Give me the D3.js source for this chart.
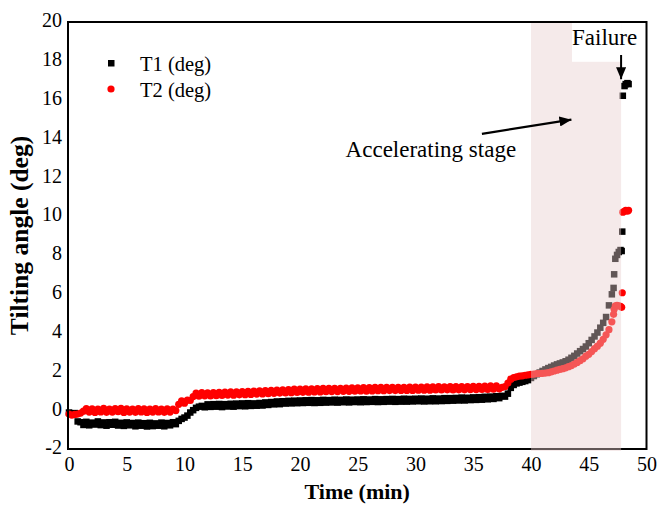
<!DOCTYPE html>
<html>
<head>
<meta charset="utf-8">
<script src="https://cdn.jsdelivr.net/npm/d3@7"></script>
<style>
  html, body { margin: 0; padding: 0; background: #fff; }
  svg { display: block; }
  text { font-family: "Liberation Serif", "Times New Roman", serif; fill: #000; }
</style>
</head>
<body>
<svg id="chart" width="663" height="505"></svg>
<script>
// Logger record: one reading every 0.25 min from t = 0 to 47 min
const sampleStep = 0.25;

const tiltT1 = [
  -0.12,-0.18,-0.15,
  -0.58,-0.62,-0.76,-0.60,-0.78,-0.64,-0.74,-0.58,-0.77,-0.63,
  -0.80,-0.62,-0.75,-0.60,-0.79,-0.65,-0.81,-0.63,-0.78,-0.66,
  -0.83,-0.64,-0.80,-0.67,-0.84,-0.65,-0.82,-0.68,-0.80,-0.64,
  -0.83,-0.66,-0.78,-0.62,-0.72,
  -0.55,-0.45,-0.38,-0.28,-0.12,0.00,0.12,0.18,0.22,
  0.15,0.30,0.17,0.31,0.18,0.32,0.16,0.31,0.19,0.33,
  0.18,0.34,0.21,0.35,0.20,0.36,0.22,0.35,0.23,0.37,
  0.24,0.40,0.27,0.42,0.30,0.45,0.31,0.46,0.34,0.48,
  0.35,0.49,0.36,0.50,0.37,0.51,0.38,0.52,0.37,0.51,
  0.38,0.53,0.39,0.52,0.40,0.54,0.39,0.53,0.41,0.55,
  0.40,0.54,0.42,0.55,0.41,0.56,0.42,0.55,0.43,0.57,
  0.42,0.56,0.43,0.57,0.44,0.58,0.43,0.57,0.44,0.59,
  0.44,0.58,0.45,0.59,0.46,0.60,0.45,0.59,0.46,0.61,
  0.46,0.60,0.47,0.62,0.48,0.62,0.49,0.63,0.50,0.65,
  0.50,0.64,0.52,0.66,0.53,0.67,0.54,0.69,0.56,0.70,
  0.58,0.72,0.62,0.74,0.70,
  0.85,1.15,1.30,1.38,1.42,1.46,1.50,1.55,
  1.66,1.76,1.85,1.94,2.02,2.10,2.17,2.23,2.30,2.36,
  2.41,2.46,2.52,2.60,2.70,2.80,2.92,3.04,3.15,3.28,
  3.45,3.62,3.80,4.00,4.25,4.50,4.80,5.40,5.97
];

const tiltT2 = [
  -0.20,-0.25,-0.22,-0.20,-0.15,
  -0.05,0.08,-0.10,0.07,-0.12,0.06,-0.09,0.09,-0.11,0.05,
  -0.10,0.08,-0.08,0.09,-0.12,0.07,-0.10,0.06,-0.11,0.08,
  -0.09,0.07,-0.12,0.06,-0.10,0.08,-0.09,0.05,-0.11,0.07,
  -0.10,0.05,-0.02,
  0.30,0.48,0.36,0.52,0.50,
  0.70,0.88,0.72,0.90,0.74,0.89,0.73,0.91,0.75,0.92,
  0.76,0.93,0.78,0.94,0.77,0.95,0.79,0.96,0.80,0.97,
  0.81,0.98,0.83,0.99,0.84,1.01,0.85,1.02,0.87,1.04,
  0.88,1.05,0.89,1.06,0.90,1.08,0.91,1.09,0.92,1.10,
  0.93,1.10,0.94,1.11,0.94,1.12,0.95,1.12,0.96,1.13,
  0.96,1.13,0.97,1.14,0.97,1.15,0.98,1.15,0.99,1.16,
  0.98,1.16,0.99,1.17,1.00,1.17,1.00,1.18,1.01,1.17,
  1.01,1.18,1.02,1.18,1.02,1.19,1.02,1.19,1.03,1.19,
  1.03,1.20,1.03,1.20,1.04,1.21,1.04,1.20,1.05,1.21,
  1.04,1.21,1.05,1.22,1.05,1.22,1.06,1.23,1.06,1.23,
  1.07,1.24,1.07,1.25,1.08,1.25,1.10,
  1.17,1.22,1.40,1.60,1.68,1.72,1.75,1.77,1.80,1.82,
  1.84,1.86,1.88,1.89,1.90,1.91,1.93,1.97,2.02,2.06,
  2.10,2.14,2.18,2.24,2.30,2.38,2.46,2.55,2.65,2.78,
  2.88,3.02,3.17,3.30,3.45,3.65,3.88,4.15,4.55
];

// Fast readings taken just before and at failure
const burstTime = [47.15,47.2,47.3,47.45,47.6,47.75,47.85,47.9,47.95,48.1,48.2,48.35,48.45];
const burstT1   = [6.3,7.0,7.8,8.0,8.15,8.25,8.2,9.2,16.2,16.7,16.8,16.85,16.8];
const burstT2   = [4.94,5.2,5.37,5.4,5.38,5.35,5.3,6.05,10.2,10.25,10.3,10.25,10.3];

const xTicks = [0,5,10,15,20,25,30,35,40,45,50];
const yTicks = [-2,0,2,4,6,8,10,12,14,16,18,20];

const seriesNames = ["T1 (deg)", "T2 (deg)"];
const accelStage = [40, 47.8];          // min
const failureAt = 47.8;                  // min

const svg = d3.select("#chart");
const plot = { left: 68, right: 646.5, top: 22, bottom: 449 };

const x = d3.scaleLinear().domain([0, 50]).range([69, 646.5]);
const y = d3.scaleLinear().domain([-2, 20]).range([plot.bottom, plot.top]);

function toPoints(values, times) {
  return values.map((v, i) => ({ t: times ? times[i] : i * sampleStep, v }));
}
const pts1 = toPoints(tiltT1).concat(toPoints(burstT1, burstTime));
const pts2 = toPoints(tiltT2).concat(toPoints(burstT2, burstTime));

// axes: labels only, the box is drawn separately
const plain = d => (d < 0 ? "-" + Math.abs(d) : String(d));
const xAxis = d3.axisBottom(x).tickValues(xTicks).tickFormat(plain).tickSize(0).tickPadding(8);
const yAxis = d3.axisLeft(y).tickValues(yTicks).tickFormat(plain).tickSize(0).tickPadding(6);

const gx = svg.append("g").attr("transform", `translate(0,${plot.bottom})`).call(xAxis);
const gy = svg.append("g").attr("transform", `translate(${plot.left},-1.5)`).call(yAxis);
[gx, gy].forEach(g => {
  g.select(".domain").remove();
  g.selectAll("text")
    .style("font-family", '"Liberation Serif", serif')
    .style("font-size", "20px")
    .attr("fill", "#000");
});

// T1: black squares, T2: red dots on top
const sq = 6.5;
svg.append("g").selectAll("rect").data(pts1).join("rect")
  .attr("x", d => x(d.t) - sq / 2)
  .attr("y", d => y(d.v) - sq / 2)
  .attr("width", sq).attr("height", sq)
  .attr("fill", "#000");

svg.append("g").selectAll("circle").data(pts2).join("circle")
  .attr("cx", d => x(d.t))
  .attr("cy", d => y(d.v))
  .attr("r", 3.6)
  .attr("fill", "#ff0000");

// frame
svg.append("rect")
  .attr("x", plot.left).attr("y", plot.top)
  .attr("width", plot.right - plot.left).attr("height", plot.bottom - plot.top)
  .attr("fill", "none").attr("stroke", "#000").attr("stroke-width", 2);

// translucent band over the accelerating stage
svg.append("rect")
  .attr("x", x(accelStage[0])).attr("y", plot.top + 1)
  .attr("width", x(accelStage[1]) - x(accelStage[0]))
  .attr("height", plot.bottom - plot.top + 1)
  .attr("fill", "rgb(232,205,205)").attr("opacity", 0.42);

// arrow heads
const defs = svg.append("defs");
defs.append("marker")
  .attr("id", "head").attr("viewBox", "0 0 12 10")
  .attr("refX", 12).attr("refY", 5)
  .attr("markerWidth", 12).attr("markerHeight", 10)
  .attr("markerUnits", "userSpaceOnUse")
  .attr("orient", "auto")
  .append("path").attr("d", "M0,0 L12,5 L0,10 Z").attr("fill", "#000");

// "Failure" label on a white patch
svg.append("rect")
  .attr("x", x(43.55)).attr("y", plot.top + 1)
  .attr("width", x(failureAt) - x(43.55)).attr("height", y(17.95) - plot.top - 1)
  .attr("fill", "#fff");
svg.append("text")
  .attr("x", x(43.55)).attr("y", y(18.8))
  .style("font-size", "23px").text("Failure");
svg.append("line")
  .attr("x1", x(failureAt)).attr("y1", y(18.3))
  .attr("x2", x(failureAt)).attr("y2", y(17.05))
  .attr("stroke", "#000").attr("stroke-width", 2)
  .attr("marker-end", "url(#head)");

// "Accelerating stage" label and arrow
svg.append("text")
  .attr("x", x(23.95)).attr("y", y(13.05))
  .style("font-size", "23px").text("Accelerating stage");
svg.append("line")
  .attr("x1", x(35.75)).attr("y1", y(14.24))
  .attr("x2", x(43.5)).attr("y2", y(14.97))
  .attr("stroke", "#000").attr("stroke-width", 2.2)
  .attr("marker-end", "url(#head)");

// legend
const legend = svg.append("g");
legend.append("rect").attr("x", 108).attr("y", 60).attr("width", 6.5).attr("height", 6.5).attr("fill", "#000");
legend.append("circle").attr("cx", 111).attr("cy", 89).attr("r", 3.6).attr("fill", "#ff0000");
legend.selectAll("text.lg").data(seriesNames).join("text")
  .attr("class", "lg")
  .attr("x", 140).attr("y", (d, i) => 71 + i * 26)
  .style("font-size", "20.5px").text(d => d);

// axis titles
svg.append("text")
  .attr("x", (plot.left + plot.right) / 2).attr("y", 499)
  .attr("text-anchor", "middle")
  .style("font-size", "22px").style("font-weight", "bold")
  .text("Time (min)");
svg.append("text")
  .attr("transform", `translate(28,${(plot.top + plot.bottom) / 2}) rotate(-90)`)
  .attr("text-anchor", "middle")
  .style("font-size", "25.5px").style("font-weight", "bold")
  .text("Tilting angle (deg)");
</script>
</body>
</html>
